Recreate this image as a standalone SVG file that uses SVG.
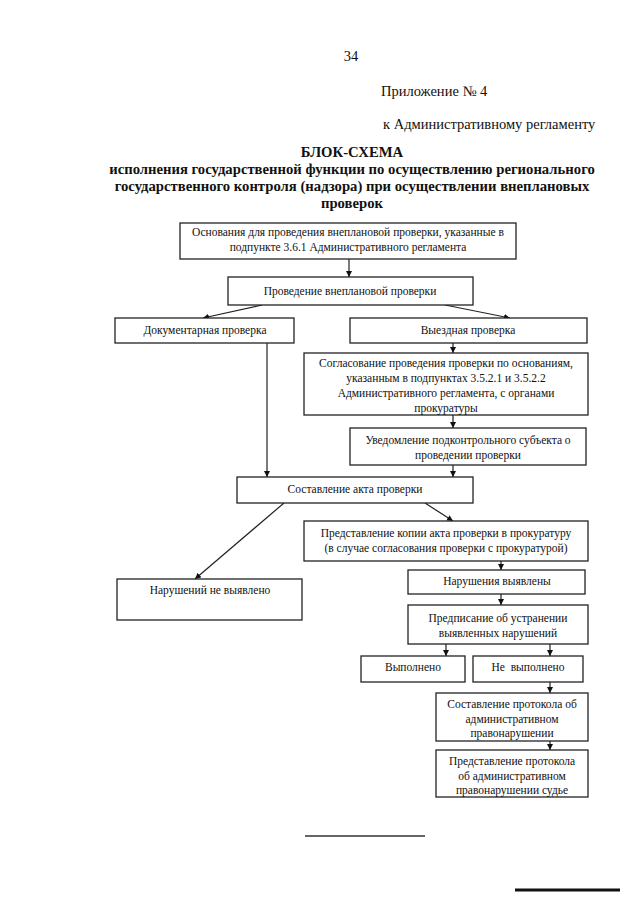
<svg xmlns="http://www.w3.org/2000/svg" width="640" height="905" viewBox="0 0 640 905">
<style>
text{font-family:"Liberation Serif","Times New Roman",serif;fill:#111}
.h{font-size:14.5px}
.t{font-size:14.7px;font-weight:bold;text-anchor:middle}
.b{font-size:11.5px;text-anchor:middle;white-space:pre}
rect{fill:#fff;stroke:#222;stroke-width:1.3}
.c line,.c path{stroke:#222;stroke-width:1.2;fill:none}
</style>
<defs>
<marker id="a" markerUnits="userSpaceOnUse" markerWidth="8" markerHeight="8" refX="6" refY="3" orient="auto">
<path d="M0,0 L6,3 L0,6 z" fill="#111"/>
</marker>
</defs>
<rect x="0" y="0" width="640" height="905" style="fill:#fff;stroke:none"/>
<g id="header">
<text class="h" x="351" y="61" text-anchor="middle">34</text>
<text class="h" x="381" y="96">Приложение № 4</text>
<text class="h" x="383" y="129">к Административному регламенту</text>
<text class="t" x="352" y="157">БЛОК-СХЕМА</text>
<text class="t" x="352" y="174">исполнения государственной функции по осуществлению регионального</text>
<text class="t" x="352" y="191">государственного контроля (надзора) при осуществлении внеплановых</text>
<text class="t" x="352" y="208">проверок</text>
</g>
<g id="connectors" class="c">
<line x1="349" y1="259" x2="349" y2="277" marker-end="url(#a)"/>
<line x1="262" y1="305" x2="203" y2="318" marker-end="url(#a)"/>
<line x1="445" y1="305" x2="510" y2="318" marker-end="url(#a)"/>
<line x1="453" y1="343" x2="453" y2="353" marker-end="url(#a)"/>
<line x1="453" y1="415" x2="453" y2="428" marker-end="url(#a)"/>
<line x1="453" y1="465" x2="453" y2="477" marker-end="url(#a)"/>
<line x1="267" y1="343" x2="267" y2="477" marker-end="url(#a)"/>
<line x1="284" y1="503" x2="195" y2="579" marker-end="url(#a)"/>
<line x1="425" y1="503" x2="453" y2="521" marker-end="url(#a)"/>
<line x1="501" y1="561" x2="501" y2="570" marker-end="url(#a)"/>
<line x1="501" y1="594" x2="501" y2="605" marker-end="url(#a)"/>
<line x1="446" y1="644" x2="446" y2="656" marker-end="url(#a)"/>
<line x1="550" y1="644" x2="550" y2="656" marker-end="url(#a)"/>
<line x1="550" y1="682" x2="550" y2="693" marker-end="url(#a)"/>
<line x1="550" y1="741" x2="550" y2="750" marker-end="url(#a)"/>
</g>
<g id="n1"><rect x="180" y="223" width="336" height="36"/>
<text class="b" x="348" y="236">Основания для проведения внеплановой проверки, указанные в</text>
<text class="b" x="348" y="251">подпункте 3.6.1 Административного регламента</text></g>
<g id="n2"><rect x="228" y="277" width="245" height="28"/>
<text class="b" x="350" y="295">Проведение внеплановой проверки</text></g>
<g id="n3"><rect x="115" y="318" width="179" height="25"/>
<text class="b" x="205" y="334">Документарная проверка</text></g>
<g id="n4"><rect x="350" y="318" width="237" height="25"/>
<text class="b" x="468" y="334">Выездная проверка</text></g>
<g id="n5"><rect x="304" y="353" width="284" height="62"/>
<text class="b" x="446" y="367">Согласование проведения проверки по основаниям,</text>
<text class="b" x="446" y="382">указанным в подпунктах 3.5.2.1 и 3.5.2.2</text>
<text class="b" x="446" y="397">Административного регламента, с органами</text>
<text class="b" x="446" y="412">прокуратуры</text></g>
<g id="n6"><rect x="350" y="428" width="236" height="37"/>
<text class="b" x="468" y="444">Уведомление подконтрольного субъекта о</text>
<text class="b" x="468" y="459">проведении проверки</text></g>
<g id="n7"><rect x="237" y="477" width="236" height="26"/>
<text class="b" x="355" y="493">Составление акта проверки</text></g>
<g id="n8"><rect x="304" y="521" width="284" height="40"/>
<text class="b" x="446" y="537">Представление копии акта проверки в прокуратуру</text>
<text class="b" x="446" y="552">(в случае согласования проверки с прокуратурой)</text></g>
<g id="n9"><rect x="117" y="579" width="185" height="41"/>
<text class="b" x="210" y="594">Нарушений не выявлено</text></g>
<g id="n10"><rect x="408" y="570" width="177" height="24"/>
<text class="b" x="497" y="585">Нарушения выявлены</text></g>
<g id="n11"><rect x="408" y="605" width="180" height="39"/>
<text class="b" x="498" y="622">Предписание об устранении</text>
<text class="b" x="498" y="637">выявленных нарушений</text></g>
<g id="n12"><rect x="361" y="656" width="104" height="26"/>
<text class="b" x="413" y="671">Выполнено</text></g>
<g id="n13"><rect x="473" y="656" width="110" height="26"/>
<text class="b" x="528" y="671">Не  выполнено</text></g>
<g id="n14"><rect x="436" y="693" width="152" height="48"/>
<text class="b" x="512" y="708">Составление протокола об</text>
<text class="b" x="512" y="723">административном</text>
<text class="b" x="512" y="737">правонарушении</text></g>
<g id="n15"><rect x="436" y="750" width="152" height="47"/>
<text class="b" x="512" y="765">Представление протокола</text>
<text class="b" x="512" y="780">об административном</text>
<text class="b" x="512" y="794">правонарушении судье</text></g>
<g id="footer">
<line x1="305" y1="836" x2="425" y2="836" stroke="#333" stroke-width="1.5"/>
<line x1="515" y1="890" x2="620" y2="890" stroke="#111" stroke-width="3"/>
</g>
</svg>
